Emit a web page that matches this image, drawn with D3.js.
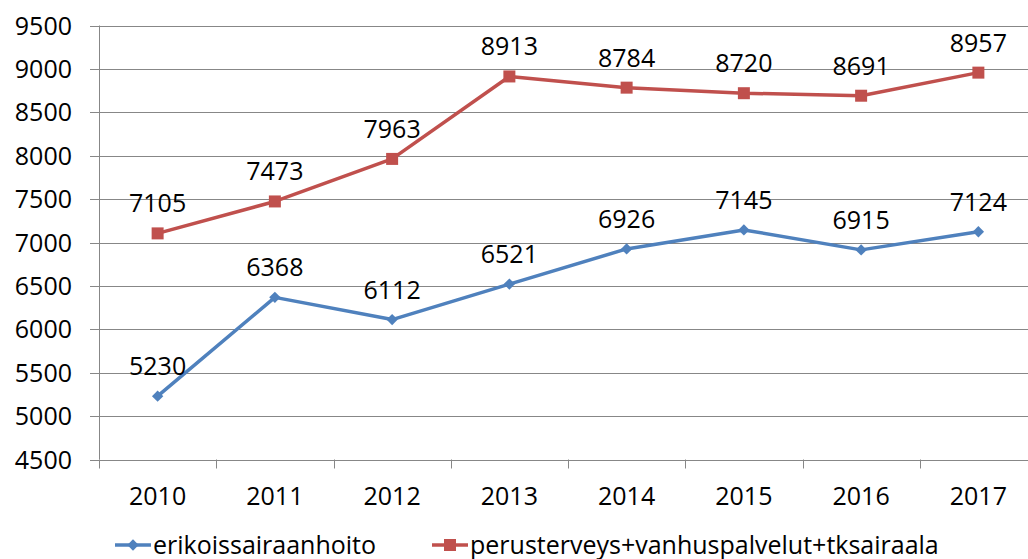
<!DOCTYPE html>
<html>
<head>
<meta charset="utf-8">
<script src="https://cdn.jsdelivr.net/npm/d3@7"></script>
<style>
	body { margin: 0; background: #fff; }
	svg text { font-family: "Open Sans", sans-serif; fill: #000; }
</style>
</head>
<body>
<div id="chart"></div>
<script>
const years = ['2010', '2011', '2012', '2013', '2014', '2015', '2016', '2017'];
const erikoissairaanhoito = [5230, 6368, 6112, 6521, 6926, 7145, 6915, 7124];
const perusterveys = [7105, 7473, 7963, 8913, 8784, 8720, 8691, 8957];
const yTicks = [4500, 5000, 5500, 6000, 6500, 7000, 7500, 8000, 8500, 9000, 9500];
const seriesNames = ['erikoissairaanhoito', 'perusterveys+vanhuspalvelut+tksairaala'];

const width = 1028, height = 559;
const margin = {top: 25, left: 99, bottom: 100};
const innerBottom = 459.5;
const fontSize = '25px';

const svg = d3.select('#chart')
	.append('svg')
		.attr('width', width)
		.attr('height', height);

// band scale for categories, overshooting right edge like the original
const x = d3.scaleBand()
	.domain(years)
	.range([margin.left, 1037]);

const y = d3.scaleLinear()
	.domain([4500, 9500])
	.range([innerBottom, 25.5]);

// gridlines
svg.append('g')
	.selectAll('line')
	.data(yTicks)
	.enter()
	.append('line')
		.attr('x1', margin.left - 9)
		.attr('x2', width)
		.attr('y1', d => Math.round(y(d)) + 0.5)
		.attr('y2', d => Math.round(y(d)) + 0.5)
		.style('stroke', '#878787')
		.style('stroke-width', 1);

// y axis line
svg.append('line')
	.attr('x1', margin.left + 0.5)
	.attr('x2', margin.left + 0.5)
	.attr('y1', y(9500))
	.attr('y2', y(4500))
	.style('stroke', '#878787');

// y tick labels
svg.append('g')
	.selectAll('text')
	.data(yTicks)
	.enter()
	.append('text')
		.attr('x', 72)
		.attr('y', d => y(d))
		.attr('dy', '0.36em')
		.style('text-anchor', 'end')
		.style('font-size', fontSize)
		.text(d => d);

// x ticks
const xBoundaries = years.map(d => x(d)).concat([x(years[years.length - 1]) + x.bandwidth()]);
svg.append('g')
	.selectAll('line')
	.data(xBoundaries)
	.enter()
	.append('line')
		.attr('x1', d => Math.round(d) + 0.5)
		.attr('x2', d => Math.round(d) + 0.5)
		.attr('y1', y(4500))
		.attr('y2', y(4500) + 9)
		.style('stroke', '#878787');

svg.append('g')
	.selectAll('text')
	.data(years)
	.enter()
	.append('text')
		.attr('x', d => x(d) + x.bandwidth() / 2)
		.attr('y', 505)
		.style('text-anchor', 'middle')
		.style('font-size', fontSize)
		.text(d => d);

const cx = d => x(d) + x.bandwidth() / 2;

// diamond = square turned 45deg, closer to the original than d3's tall diamond
function markerPath(kind) {
	return kind === 'square'
		? d3.symbol().type(d3.symbolSquare).size(144)()
		: d3.symbol().type(d3.symbolSquare).size(64)();
}
function markerRotate(kind) {
	return kind === 'square' ? '' : ' rotate(45)';
}

function drawSeries(values, color, kind) {
	const pts = years.map((yr, i) => ({year: yr, value: values[i]}));
	const line = d3.line()
		.x(d => cx(d.year))
		.y(d => y(d.value));

	svg.append('path')
		.datum(pts)
		.attr('d', line)
		.style('fill', 'none')
		.style('stroke', color)
		.style('stroke-width', 3.5)
		.style('stroke-linejoin', 'round');

	svg.append('g')
		.selectAll('path')
		.data(pts)
		.enter()
		.append('path')
			.attr('d', markerPath(kind))
			.attr('transform', d => `translate(${cx(d.year)},${y(d.value)})` + markerRotate(kind))
			.style('fill', color);

	svg.append('g')
		.selectAll('text')
		.data(pts)
		.enter()
		.append('text')
			.attr('x', d => cx(d.year))
			.attr('y', d => y(d.value) - 21)
			.style('text-anchor', 'middle')
			.style('font-size', fontSize)
			.text(d => d.value);
}

drawSeries(perusterveys, '#C0504D', 'square');
drawSeries(erikoissairaanhoito, '#4F81BD', 'diamond');

// legend
const legendItems = [
	{name: seriesNames[0], color: '#4F81BD', kind: 'diamond', x: 115},
	{name: seriesNames[1], color: '#C0504D', kind: 'square', x: 432}
];
const legend = svg.append('g').selectAll('g')
	.data(legendItems)
	.enter()
	.append('g')
		.attr('transform', d => `translate(${d.x},545)`);

legend.append('line')
	.attr('x1', 0)
	.attr('x2', 36)
	.style('stroke', d => d.color)
	.style('stroke-width', 3.5);
legend.append('path')
	.attr('d', d => markerPath(d.kind))
	.attr('transform', d => 'translate(18,0)' + markerRotate(d.kind))
	.style('fill', d => d.color);
legend.append('text')
	.attr('x', 38)
	.attr('dy', '0.36em')
	.style('font-size', fontSize)
	.text(d => d.name);
</script>
</body>
</html>
